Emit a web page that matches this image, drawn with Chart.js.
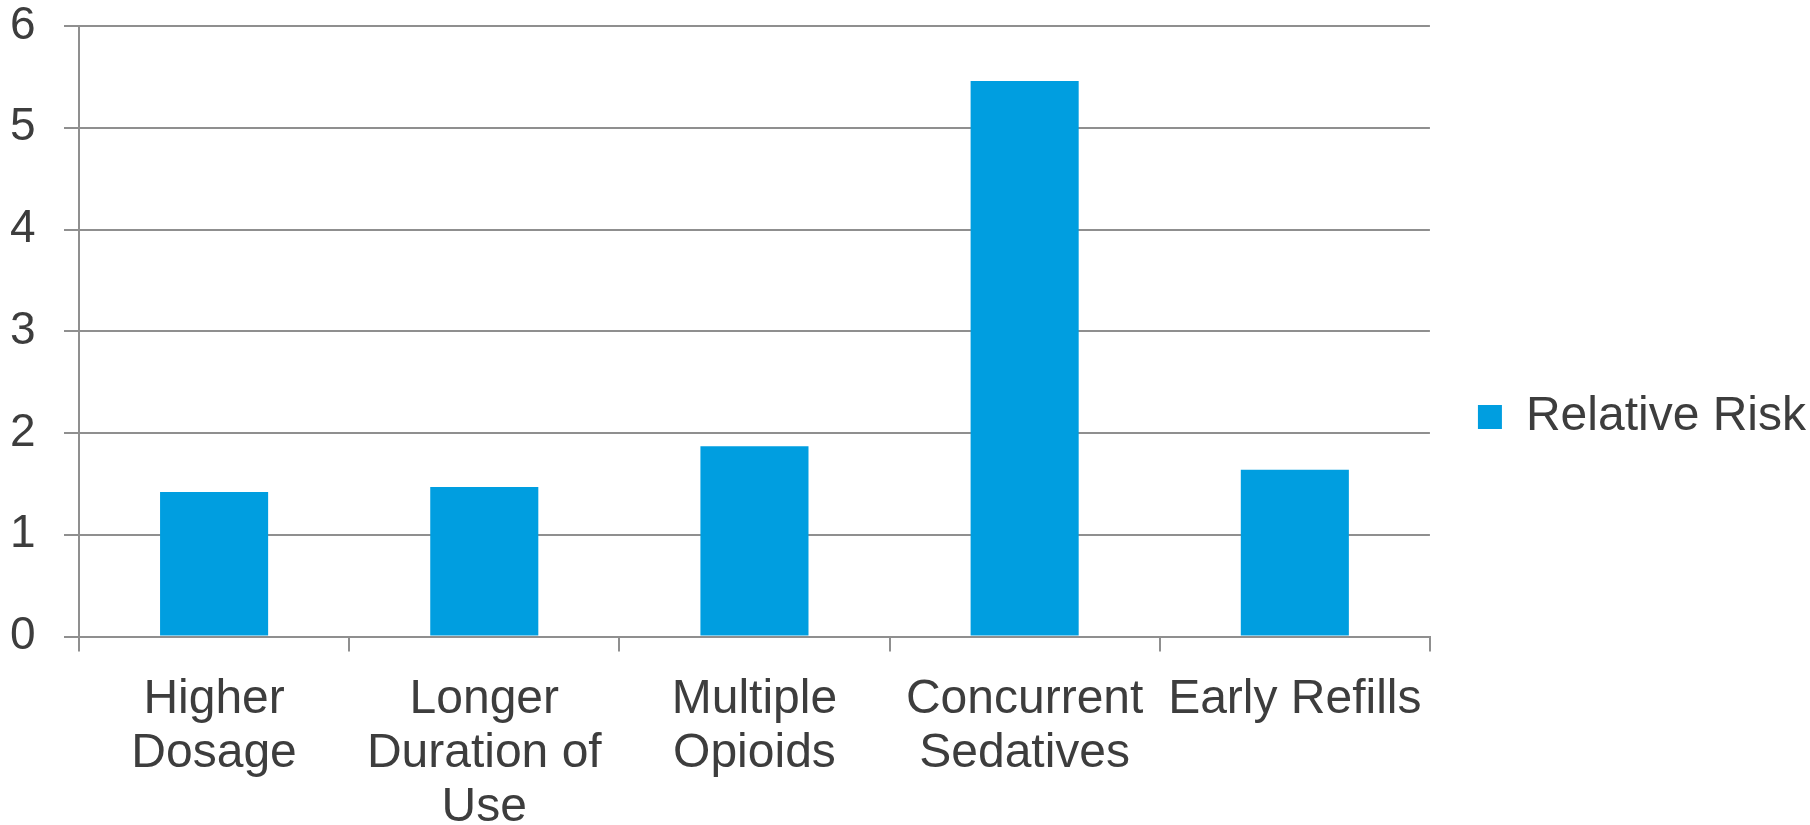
<!DOCTYPE html>
<html>
<head>
<meta charset="utf-8">
<script src="https://cdn.jsdelivr.net/npm/chart.js@4/dist/chart.umd.min.js"></script>
<style>
  html, body { margin: 0; padding: 0; background: #fff; }
  #wrap { width: 1810px; height: 825px; }
</style>
</head>
<body>
<div id="wrap"><canvas id="chart-risk"></canvas></div>
<script>
// ==========================================
// 相対リスク（棒グラフ）
// ==========================================

const CATEGORIES = [
  ['Higher', 'Dosage'],
  ['Longer', 'Duration of', 'Use'],
  ['Multiple', 'Opioids'],
  ['Concurrent', 'Sedatives'],
  'Early Refills'
];
const RELATIVE_RISK = [1.42, 1.47, 1.87, 5.46, 1.64];
const Y_TICKS = [0, 1, 2, 3, 4, 5, 6];

const TEXT_COLOR = '#3d3d3d';
const LINE_COLOR = '#8f8f8f';
const BAR_COLOR = '#009EE0';
const FONT = 'Liberation Sans, Arial, sans-serif';

const ctx = document.getElementById('chart-risk');

new Chart(ctx, {
  type: 'bar',
  data: {
    labels: CATEGORIES,
    datasets: [{
      label: 'Relative Risk',
      data: RELATIVE_RISK,
      backgroundColor: BAR_COLOR,
      borderWidth: 0,
      categoryPercentage: 1,
      barPercentage: 0.4
    }]
  },
  options: {
    responsive: true,
    maintainAspectRatio: false,
    animation: false,
    layout: { padding: { top: 9, right: -6, bottom: 0, left: 10 } },
    plugins: {
      tooltip: { enabled: false },
      legend: {
        position: 'right',
        labels: {
          boxWidth: 24,
          boxHeight: 24,
          padding: 48,
          color: TEXT_COLOR,
          font: { family: FONT, size: 48 }
        }
      }
    },
    scales: {
      x: {
        grid: {
          drawOnChartArea: false,
          drawTicks: true,
          tickLength: 15,
          color: LINE_COLOR,
          lineWidth: 2
        },
        border: { color: LINE_COLOR, width: 2 },
        ticks: {
          maxRotation: 0,
          autoSkip: false,
          padding: 21,
          color: TEXT_COLOR,
          font: { family: FONT, size: 48, lineHeight: 1.125 }
        },
        afterFit: s => { s.height = 188.5; }
      },
      y: {
        min: 0,
        max: 6,
        afterBuildTicks: s => { s.ticks = Y_TICKS.map(v => ({ value: v })); },
        grid: {
          tickLength: 15,
          color: LINE_COLOR,
          lineWidth: 2
        },
        border: { color: LINE_COLOR, width: 2 },
        ticks: {
          padding: 3,
          crossAlign: 'far',
          color: TEXT_COLOR,
          font: { family: FONT, size: 46, lineHeight: 1 }
        },
        afterFit: s => { s.width = 69; }
      }
    }
  }
});
</script>
</body>
</html>
